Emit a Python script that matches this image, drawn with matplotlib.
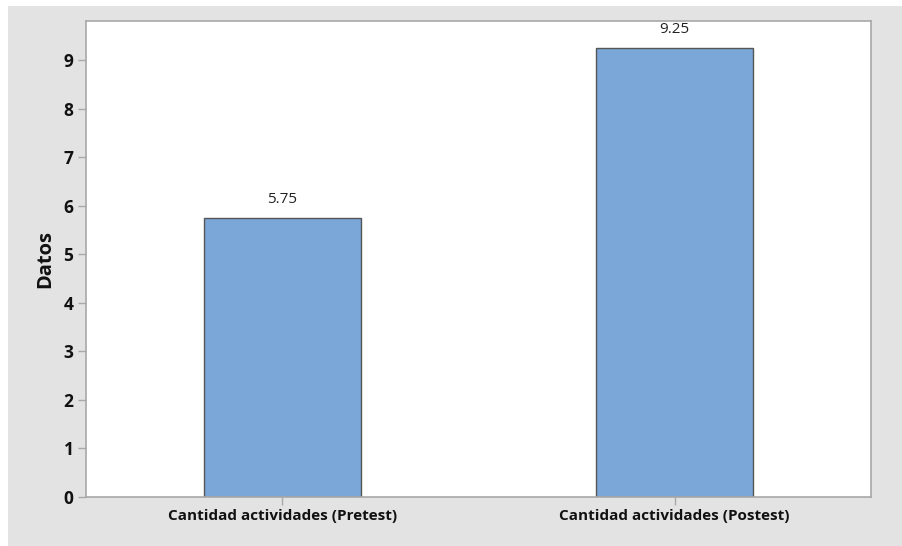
import matplotlib
matplotlib.use('Agg')
import matplotlib.pyplot as plt
from matplotlib.patches import Rectangle

# Mean activity counts, before and after
categories = ['Cantidad actividades (Pretest)', 'Cantidad actividades (Postest)']
means = [5.75, 9.25]
yticks = [0, 1, 2, 3, 4, 5, 6, 7, 8, 9]

plt.rcParams['font.family'] = ['Open Sans', 'DejaVu Sans']

fig = plt.figure(figsize=(9.02, 5.46), dpi=100)
fig.patch.set_facecolor('white')
# grey backdrop behind the plot
fig.patches.append(Rectangle((8 / 902, 0), 1, 1 - 6 / 546, transform=fig.transFigure,
                             facecolor='#e3e3e3', edgecolor='none', zorder=-10))

ax = fig.add_axes([86 / 902, 49.3 / 546, 784.7 / 902, 475.7 / 546])
ax.set_facecolor('white')

x = range(len(categories))
bars = ax.bar(x, means, width=0.4, color='#7ba7d8', edgecolor='#555555', linewidth=1)
for xi, v in zip(x, means):
    ax.text(xi, v + 0.22, f'{v:.2f}', ha='center', va='bottom', fontsize=11, color='#222222')

ax.set_xlim(-0.5, 1.5)
ax.set_ylim(0, 9.81)
ax.set_yticks(yticks)
ax.set_xticks(list(x))
ax.set_xticklabels(categories, fontsize=11, fontweight='bold', color='#111111')
ax.set_yticklabels([str(t) for t in yticks], fontsize=12.5, fontweight='bold', color='#111111')
ax.set_ylabel('Datos', fontsize=14.5, fontweight='bold', color='#111111', labelpad=6)

for s in ax.spines.values():
    s.set_color('#a8a8a8')
    s.set_linewidth(1.2)
ax.tick_params(axis='both', color='#a8a8a8', length=6, width=1, direction='out', pad=3)

fig.savefig('out.png', dpi=100, facecolor=fig.get_facecolor())
